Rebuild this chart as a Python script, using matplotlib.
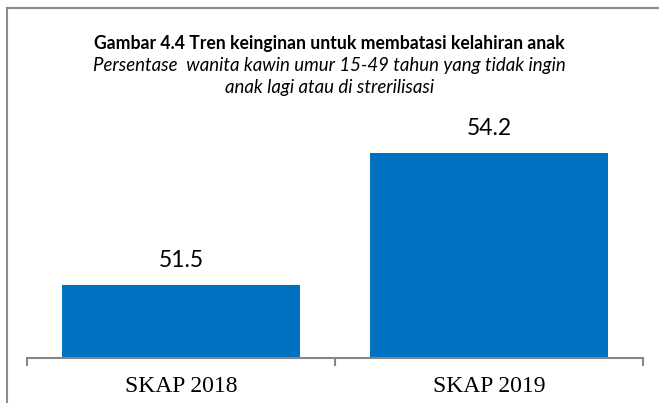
import matplotlib.pyplot as plt
from matplotlib.lines import Line2D

# Data
kategori = ["SKAP 2018", "SKAP 2019"]
persen = [51.5, 54.2]

judul = "Gambar 4.4 Tren keinginan untuk membatasi kelahiran anak"
subjudul1 = "Persentase  wanita kawin umur 15-49 tahun yang tidak ingin"
subjudul2 = "anak lagi atau di strerilisasi"

W, H = 659, 403
fig = plt.figure(figsize=(W / 100, H / 100), dpi=100)

# area plot (pixel-based)
ax = fig.add_axes([27 / W, (H - 358) / H, 616 / W, 244.5 / H])

x = list(range(len(kategori)))
ax.bar(x, persen, width=0.77, color="#0070C0", zorder=2)
ax.set_xlim(-0.5, len(kategori) - 0.5)
ax.set_ylim(50, 55)

for xi, v in zip(x, persen):
    ax.annotate(f"{v}", (xi, v), xytext=(0, 10), textcoords="offset points",
                ha="center", va="bottom", fontsize=16.5, family="Lato")

for s in ["top", "right", "left"]:
    ax.spines[s].set_visible(False)
ax.spines["bottom"].set_color("#868686")
ax.spines["bottom"].set_linewidth(1.5)
ax.set_yticks([])

# batas kategori sebagai tick utama, label di tick minor
ax.set_xticks([-0.5, 0.5, 1.5])
ax.set_xticklabels([])
ax.tick_params(axis="x", which="major", direction="out", length=6,
               width=1.5, color="#868686")
ax.set_xticks(x, minor=True)
ax.set_xticklabels(kategori, minor=True, family="Liberation Serif", fontsize=17)
ax.tick_params(axis="x", which="minor", length=0, pad=13)

# judul
fig.text(0.5, 1 - 43 / H, judul, ha="center", va="center",
         fontsize=12.7, fontweight="bold", family="Lato")
fig.text(0.5, 1 - 65 / H, subjudul1, ha="center", va="center",
         fontsize=13.4, style="italic", family="Lato")
fig.text(0.5, 1 - 87 / H, subjudul2, ha="center", va="center",
         fontsize=13.4, style="italic", family="Lato")

# bingkai
fig.add_artist(Line2D([7 / W, 7 / W], [0, 1 - 8 / H], transform=fig.transFigure,
                      color="#8c8c8c", lw=1.5))
fig.add_artist(Line2D([7 / W, 1], [1 - 8 / H, 1 - 8 / H], transform=fig.transFigure,
                      color="#8c8c8c", lw=1.5))

fig.savefig("out.png", dpi=100)
